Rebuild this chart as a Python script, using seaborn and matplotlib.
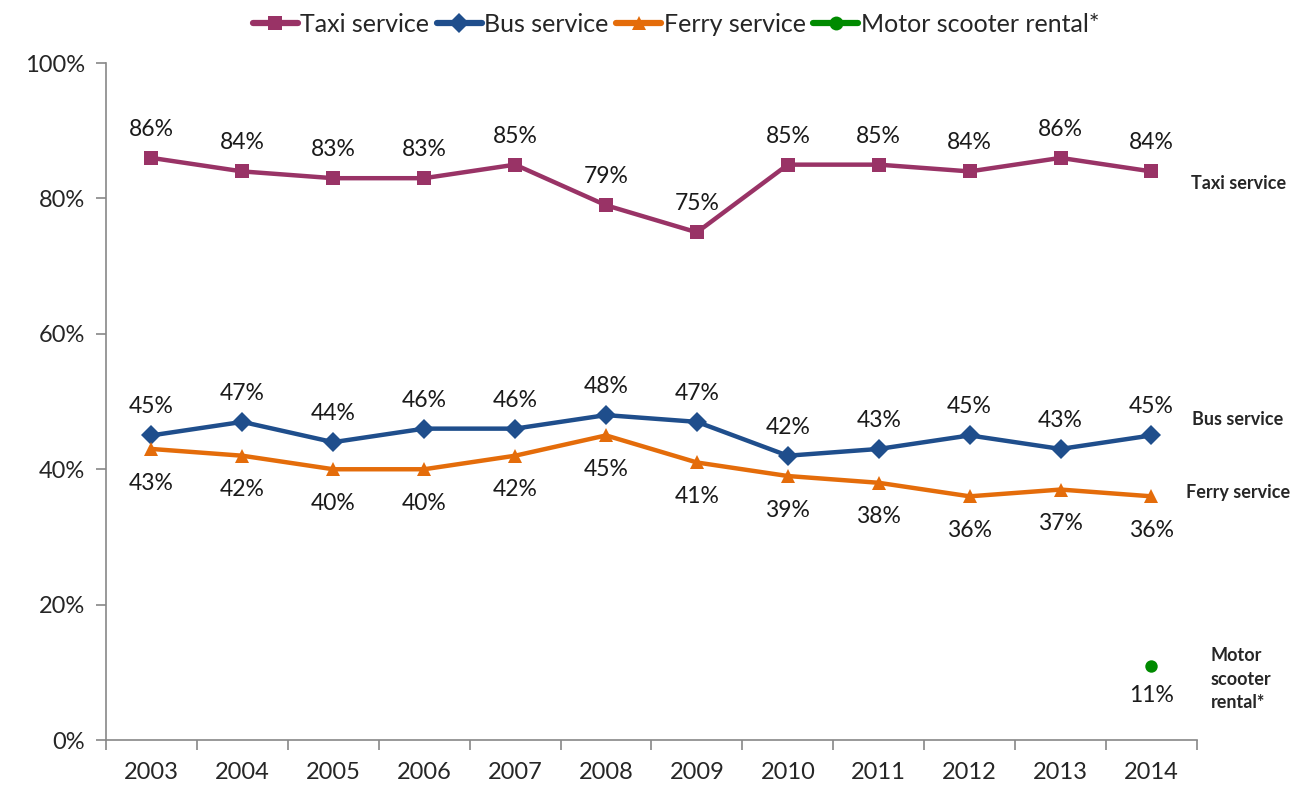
import matplotlib
matplotlib.use("Agg")
import matplotlib.pyplot as plt
import seaborn as sns
import pandas as pd
import numpy as np
from matplotlib.ticker import FixedLocator, PercentFormatter
from matplotlib.lines import Line2D

years = ["2003", "2004", "2005", "2006", "2007", "2008", "2009", "2010", "2011", "2012", "2013", "2014"]
taxi = [86, 84, 83, 83, 85, 79, 75, 85, 85, 84, 86, 84]
bus = [45, 47, 44, 46, 46, 48, 47, 42, 43, 45, 43, 45]
ferry = [43, 42, 40, 40, 42, 45, 41, 39, 38, 36, 37, 36]
scooter_year = "2014"
scooter = 11

series_names = ["Taxi service", "Bus service", "Ferry service", "Motor scooter rental*"]
colors = {"Taxi service": "#993366", "Bus service": "#1F4E8C",
          "Ferry service": "#E46C0A", "Motor scooter rental*": "#008A00"}
markers = {"Taxi service": "s", "Bus service": "D", "Ferry service": "^", "Motor scooter rental*": "o"}

sns.set_theme(style="white")
plt.rcParams['font.family'] = ['Lato', 'DejaVu Sans']

rows = []
for name, vals in zip(series_names[:3], [taxi, bus, ferry]):
    for i, (y, v) in enumerate(zip(years, vals)):
        rows.append({"idx": i, "year": y, "value": v, "series": name})
df = pd.DataFrame(rows)
df_sc = pd.DataFrame({"idx": [years.index(scooter_year)], "value": [scooter],
                      "series": ["Motor scooter rental*"]})

fig = plt.figure(figsize=(13.05, 7.88), dpi=100)
ax = fig.add_axes([0.0812, 0.0609, 0.836, 0.859])

sns.lineplot(data=df, x="idx", y="value", hue="series", style="series",
             palette=colors, markers=markers, dashes=False, linewidth=3.2,
             markersize=10, markeredgewidth=0, ax=ax, legend=False)
sns.scatterplot(data=df_sc, x="idx", y="value", color=colors["Motor scooter rental*"],
                s=80, linewidth=0, ax=ax, legend=False)

lab_fs = 16.5
for i, v in enumerate(taxi):
    ax.annotate(f"{v}%", (i, v), xytext=(0, 13), textcoords="offset points",
                ha="center", va="bottom", fontsize=lab_fs, color="#1a1a1a")
for i, v in enumerate(bus):
    ax.annotate(f"{v}%", (i, v), xytext=(0, 13), textcoords="offset points",
                ha="center", va="bottom", fontsize=lab_fs, color="#1a1a1a")
for i, v in enumerate(ferry):
    ax.annotate(f"{v}%", (i, v), xytext=(0, -17), textcoords="offset points",
                ha="center", va="top", fontsize=lab_fs, color="#1a1a1a")
ax.annotate(f"{scooter}%", (years.index(scooter_year), scooter), xytext=(0, -14),
            textcoords="offset points", ha="center", va="top", fontsize=lab_fs, color="#1a1a1a")

rfs = 13
ax.text(11.43, 82.2, "Taxi service", fontsize=rfs, fontweight="bold", va="center", ha="left")
ax.text(11.45, 47.4, "Bus service", fontsize=rfs, fontweight="bold", va="center", ha="left")
ax.text(11.38, 36.6, "Ferry service", fontsize=rfs, fontweight="bold", va="center", ha="left")
ax.text(11.65, 9.0, "Motor\nscooter\nrental*", fontsize=rfs, fontweight="bold",
        va="center", ha="left", linespacing=1.45, clip_on=False)

ax.set_xlim(-0.5, 11.5)
ax.set_ylim(0, 100)
ax.set_xticks(range(len(years)))
ax.set_xticklabels(years, fontsize=17)
ax.xaxis.set_minor_locator(FixedLocator(np.arange(-0.5, 12, 1)))
ax.tick_params(axis="x", which="major", length=0, pad=16)
ax.tick_params(axis="x", which="minor", length=7, width=1.2, color="#888888", direction="out", bottom=True)
ax.set_yticks(range(0, 101, 20))
ax.yaxis.set_major_formatter(PercentFormatter(decimals=0))
ax.tick_params(axis="y", which="major", length=7, width=1.2, color="#888888", direction="out",
               left=True, labelsize=17, pad=8)
ax.set_xlabel("")
ax.set_ylabel("")
for s in ["top", "right"]:
    ax.spines[s].set_visible(False)
for s in ["left", "bottom"]:
    ax.spines[s].set_color("#888888")
    ax.spines[s].set_linewidth(1.2)

handles = [Line2D([0], [0], color=colors[n], marker=markers[n], lw=4.5, markersize=10,
                  markeredgewidth=0) for n in series_names]
fig.legend(handles, series_names, loc="upper center", bbox_to_anchor=(0.518, 1.012), ncol=4,
           frameon=False, fontsize=18, handlelength=1.8, handletextpad=0.1, columnspacing=0.3)

fig.savefig("out.png", dpi=100)
